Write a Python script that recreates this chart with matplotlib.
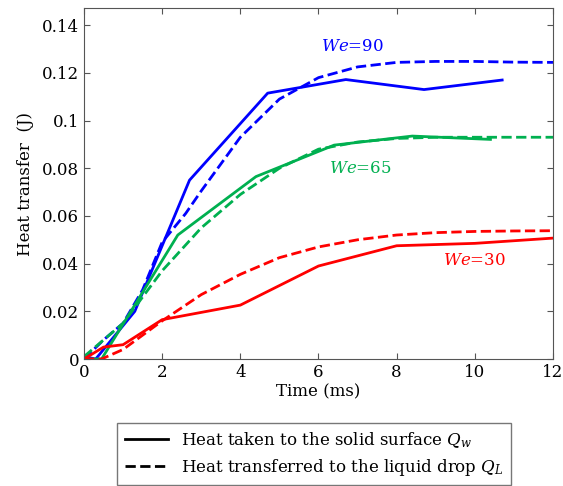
import matplotlib
matplotlib.use("Agg")
import matplotlib.pyplot as plt
from matplotlib.lines import Line2D

# We=90
t90_wall = [0.0, 0.3, 1.3, 2.7, 4.7, 6.7, 8.7, 10.7]
q90_wall = [0.001, 0.0, 0.02, 0.075, 0.1115, 0.1172, 0.113, 0.117]
t90_drop = [0, 0.5, 1, 1.5, 2, 2.6, 3, 4, 5, 6, 7, 8, 9, 10, 11, 12]
q90_drop = [0.0, 0.008, 0.015, 0.029, 0.049, 0.061, 0.0705, 0.093, 0.109,
            0.118, 0.1225, 0.1244, 0.1248, 0.1248, 0.1245, 0.1244]

# We=65
t65_wall = [0.0, 0.45, 2.4, 4.4, 6.4, 8.4, 10.4]
q65_wall = [0.0, 0.0, 0.052, 0.0765, 0.0897, 0.0935, 0.0921]
t65_drop = [0, 1, 2, 3, 4, 5, 6, 7, 8, 9, 10, 11, 12]
q65_drop = [0.001, 0.015, 0.037, 0.055, 0.069, 0.080, 0.088, 0.091, 0.0925,
            0.093, 0.093, 0.093, 0.093]

# We=30
t30_wall = [0.0, 0.5, 1.0, 2.0, 4.0, 6.0, 8.0, 10.0, 12.0]
q30_wall = [0.0, 0.005, 0.006, 0.0165, 0.0226, 0.039, 0.0475, 0.0485, 0.0507]
t30_drop = [0, 0.45, 1, 2, 3, 4, 5, 6, 7, 8, 9, 10, 11, 12]
q30_drop = [0.0, 0.0, 0.004, 0.016, 0.027, 0.0355, 0.0425, 0.047, 0.050,
            0.052, 0.053, 0.0535, 0.0537, 0.0538]

BLUE = "#0000ff"
GREEN = "#00b050"
RED = "#ff0000"

plt.rcParams["font.family"] = "DejaVu Serif"
plt.rcParams["mathtext.fontset"] = "dejavuserif"

fig = plt.figure(figsize=(5.63, 4.86), dpi=100)
ax = fig.add_axes([0.1492, 0.2613, 0.833, 0.7222])

lw = 2.0
ax.plot(t90_wall, q90_wall, color=BLUE, lw=lw)
ax.plot(t90_drop, q90_drop, color=BLUE, lw=lw, ls="--")
ax.plot(t65_wall, q65_wall, color=GREEN, lw=lw)
ax.plot(t65_drop, q65_drop, color=GREEN, lw=lw, ls="--")
ax.plot(t30_wall, q30_wall, color=RED, lw=lw)
ax.plot(t30_drop, q30_drop, color=RED, lw=lw, ls="--")

ax.text(6.86, 0.131, r"$\it{We}$=90", color=BLUE, fontsize=12, ha="center", va="center")
ax.text(7.06, 0.0797, r"$\it{We}$=65", color=GREEN, fontsize=12, ha="center", va="center")
ax.text(9.98, 0.0415, r"$\it{We}$=30", color=RED, fontsize=12, ha="center", va="center")

ax.set_xlim(0, 12)
ax.set_ylim(0, 0.1472)
ax.set_xticks([0, 2, 4, 6, 8, 10, 12])
ax.set_yticks([0, 0.02, 0.04, 0.06, 0.08, 0.1, 0.12, 0.14])
ax.set_yticklabels(["0", "0.02", "0.04", "0.06", "0.08", "0.1", "0.12", "0.14"])
ax.tick_params(direction="in", top=True, right=True, labelsize=12, length=4,
               color="#555555")
for sp in ax.spines.values():
    sp.set_color("#555555")
ax.set_xlabel("Time (ms)", fontsize=12, labelpad=2)
ax.set_ylabel("Heat transfer  (J)", fontsize=12, labelpad=6)

handles = [
    Line2D([], [], color="black", lw=2.0),
    Line2D([], [], color="black", lw=2.0, ls="--"),
]
labels = [
    r"Heat taken to the solid surface $Q_w$",
    r"Heat transferred to the liquid drop $Q_L$",
]
fig.legend(handles, labels, loc="upper left", bbox_to_anchor=(0.208, 0.13),
           borderaxespad=0, frameon=True, fancybox=False, edgecolor="#555555",
           fontsize=12, handlelength=2.6, borderpad=0.45, labelspacing=0.4)

fig.savefig("out.png", dpi=100)
